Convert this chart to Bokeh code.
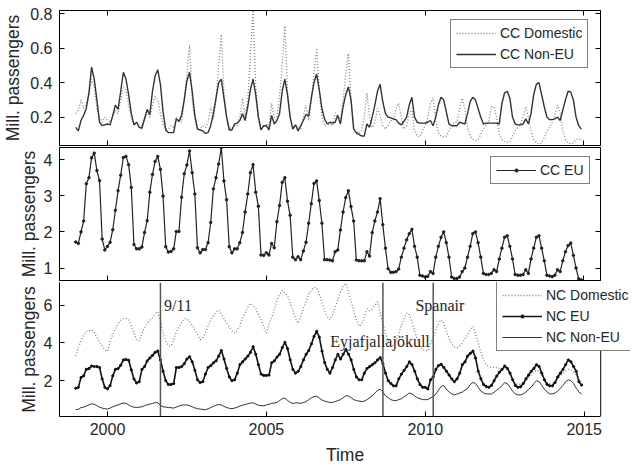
import numpy as np
from bokeh.plotting import figure
from bokeh.layouts import column
from bokeh.models import (LinearAxis, FixedTicker, Range1d, Legend, LegendItem,
                          Span, Label, CustomLabelingPolicy)
from bokeh.embed import file_html
from bokeh.resources import INLINE

# ---------------- data (monthly, Jan 1999 - Dec 2014), million passengers ----------------
cc_domestic = [
    0.22, 0.24, 0.30, 0.25, 0.28, 0.33, 0.42, 0.38, 0.25, 0.20, 0.17, 0.20,
    0.18, 0.17, 0.20, 0.24, 0.22, 0.30, 0.37, 0.36, 0.27, 0.20, 0.15, 0.17,
    0.15, 0.15, 0.19, 0.23, 0.20, 0.27, 0.32, 0.30, 0.22, 0.16, 0.13, 0.13,
    0.15, 0.14, 0.20, 0.18, 0.17, 0.30, 0.45, 0.62, 0.30, 0.18, 0.13, 0.13,
    0.15, 0.14, 0.17, 0.26, 0.19, 0.30, 0.50, 0.68, 0.35, 0.20, 0.14, 0.13,
    0.15, 0.15, 0.20, 0.31, 0.20, 0.30, 0.55, 0.83, 0.38, 0.20, 0.15, 0.14,
    0.16, 0.14, 0.28, 0.20, 0.20, 0.32, 0.50, 0.73, 0.35, 0.20, 0.14, 0.15,
    0.15, 0.13, 0.20, 0.27, 0.18, 0.30, 0.45, 0.60, 0.35, 0.20, 0.15, 0.15,
    0.16, 0.15, 0.225, 0.20, 0.19, 0.30, 0.45, 0.57, 0.30, 0.14, 0.10, 0.11,
    0.12, 0.20, 0.34, 0.20, 0.14, 0.17, 0.25, 0.21, 0.15, 0.13, 0.15, 0.18,
    0.18, 0.25, 0.28, 0.20, 0.13, 0.15, 0.22, 0.25, 0.12, 0.09, 0.085, 0.12,
    0.15, 0.20, 0.28, 0.31, 0.18, 0.11, 0.09, 0.085, 0.09, 0.12, 0.15, 0.17,
    0.17, 0.25, 0.31, 0.25, 0.14, 0.09, 0.07, 0.065, 0.07, 0.10, 0.13, 0.15,
    0.17, 0.26, 0.26, 0.20, 0.10, 0.07, 0.055, 0.055, 0.06, 0.09, 0.12, 0.14,
    0.16, 0.20, 0.26, 0.20, 0.12, 0.07, 0.05, 0.045, 0.05, 0.08, 0.12, 0.14,
    0.17, 0.21, 0.27, 0.23, 0.12, 0.07, 0.05, 0.045, 0.05, 0.07, 0.07, 0.07,
]
cc_non_eu = [
    0.14, 0.12, 0.18, 0.21, 0.25, 0.34, 0.49, 0.42, 0.30, 0.17, 0.15, 0.155,
    0.16, 0.155, 0.21, 0.27, 0.245, 0.35, 0.46, 0.42, 0.33, 0.22, 0.155, 0.17,
    0.14, 0.135, 0.19, 0.245, 0.215, 0.35, 0.44, 0.475, 0.39, 0.23, 0.125, 0.11,
    0.11, 0.11, 0.19, 0.175, 0.21, 0.30, 0.41, 0.46, 0.35, 0.21, 0.13, 0.125,
    0.12, 0.105, 0.11, 0.15, 0.22, 0.31, 0.40, 0.42, 0.31, 0.20, 0.125, 0.125,
    0.16, 0.165, 0.18, 0.22, 0.18, 0.26, 0.36, 0.42, 0.33, 0.20, 0.125, 0.15,
    0.15, 0.125, 0.21, 0.16, 0.18, 0.22, 0.35, 0.42, 0.33, 0.20, 0.13, 0.155,
    0.12, 0.15, 0.18, 0.215, 0.205, 0.31, 0.40, 0.45, 0.36, 0.25, 0.19, 0.16,
    0.17, 0.165, 0.17, 0.21, 0.16, 0.26, 0.33, 0.375, 0.30, 0.13, 0.11, 0.10,
    0.09, 0.09, 0.16, 0.14, 0.20, 0.27, 0.35, 0.39, 0.29, 0.22, 0.20, 0.195,
    0.19, 0.185, 0.165, 0.155, 0.175, 0.20, 0.27, 0.315, 0.20, 0.17, 0.165, 0.165,
    0.165, 0.17, 0.18, 0.15, 0.20, 0.27, 0.315, 0.30, 0.23, 0.16, 0.15, 0.15,
    0.15, 0.17, 0.165, 0.16, 0.22, 0.29, 0.315, 0.30, 0.25, 0.20, 0.16, 0.165,
    0.165, 0.165, 0.165, 0.165, 0.16, 0.28, 0.34, 0.35, 0.31, 0.20, 0.16, 0.155,
    0.155, 0.16, 0.19, 0.16, 0.22, 0.33, 0.39, 0.40, 0.33, 0.26, 0.20, 0.185,
    0.185, 0.19, 0.20, 0.18, 0.24, 0.30, 0.35, 0.345, 0.30, 0.20, 0.15, 0.13,
]
cc_eu = [
    1.72, 1.68, 2.00, 2.30, 3.33, 3.50, 4.05, 4.18, 3.70, 3.42, 1.80, 1.50,
    1.60, 1.71, 2.06, 2.60, 3.14, 3.57, 4.06, 4.09, 3.86, 3.23, 1.65, 1.53,
    1.53, 1.58, 1.98, 2.31, 3.10, 3.59, 3.95, 4.09, 3.73, 2.99, 1.59, 1.44,
    1.46, 1.53, 2.01, 2.01, 2.96, 3.61, 3.85, 4.24, 3.64, 3.05, 1.56, 1.42,
    1.51, 1.51, 1.70, 2.26, 3.19, 3.50, 3.88, 4.33, 3.41, 2.89, 1.59, 1.42,
    1.53, 1.53, 1.70, 1.98, 2.55, 3.05, 3.64, 3.86, 3.10, 2.71, 1.36, 1.35,
    1.42, 1.36, 1.68, 1.56, 2.28, 2.73, 3.37, 3.50, 2.85, 2.46, 1.30, 1.23,
    1.31, 1.23, 1.47, 1.71, 2.24, 2.78, 3.34, 3.41, 2.87, 2.24, 1.23, 1.23,
    1.22, 1.20, 1.45, 1.50, 2.05, 2.55, 2.95, 3.14, 2.70, 2.30, 1.22, 1.20,
    1.20, 1.20, 1.45, 1.33, 1.98, 2.30, 2.55, 2.92, 2.20, 1.55, 0.98, 0.88,
    0.88, 0.90, 0.97, 1.30, 1.55, 1.78, 1.95, 2.07, 1.60, 1.30, 0.80, 0.78,
    0.75, 0.77, 0.90, 0.85, 1.30, 1.60, 1.85, 2.00, 1.70, 1.30, 0.75, 0.71,
    0.71, 0.75, 0.90, 1.00, 1.30, 1.60, 1.95, 2.00, 1.70, 1.30, 0.85, 0.82,
    0.82, 0.85, 0.95, 0.90, 1.25, 1.55, 1.85, 1.89, 1.60, 1.25, 0.82, 0.80,
    0.80, 0.82, 0.95, 0.85, 1.25, 1.55, 1.85, 1.89, 1.55, 1.20, 0.80, 0.78,
    0.76, 0.80, 0.95, 0.90, 1.20, 1.45, 1.62, 1.69, 1.35, 1.00, 0.70, 0.67,
]
nc_domestic = [
    3.30, 3.75, 4.10, 4.40, 4.60, 4.65, 4.70, 4.55, 4.30, 4.05, 3.85, 3.65,
    3.56, 4.10, 4.45, 4.75, 5.00, 5.20, 5.28, 5.30, 5.22, 4.90, 4.52, 4.15,
    4.12, 4.50, 4.80, 5.04, 5.20, 5.35, 5.55, 5.65, 5.13, 4.50, 4.10, 3.85,
    3.85, 4.17, 4.60, 4.85, 5.10, 5.30, 5.25, 5.15, 4.95, 4.70, 4.45, 4.17,
    4.30, 4.55, 4.90, 5.20, 5.45, 5.65, 5.74, 5.55, 5.30, 5.05, 4.85, 4.65,
    4.52, 4.70, 4.87, 5.30, 5.60, 5.90, 6.09, 5.98, 5.83, 5.50, 5.22, 4.85,
    4.52, 5.00, 5.30, 5.80, 6.25, 6.55, 6.78, 6.65, 6.52, 6.10, 5.74, 5.30,
    5.04, 5.40, 5.85, 6.20, 6.60, 6.80, 6.95, 6.90, 6.60, 6.10, 5.70, 5.40,
    5.23, 5.50, 5.90, 6.30, 6.70, 7.00, 7.15, 6.70, 6.20, 5.70, 5.20, 4.88,
    5.00, 5.40, 5.80, 5.70, 5.80, 6.00, 6.19, 5.60, 5.00, 4.50, 4.10, 3.90,
    3.85, 4.10, 4.50, 4.95, 5.30, 5.58, 5.50, 5.10, 4.60, 4.20, 3.85, 3.65,
    3.60, 3.57, 3.95, 4.30, 4.70, 5.00, 5.23, 5.00, 4.60, 4.25, 3.95, 3.80,
    3.75, 3.85, 4.00, 4.20, 4.45, 4.70, 4.88, 4.50, 4.00, 3.50, 3.10, 2.85,
    2.75, 2.70, 2.72, 2.70, 2.65, 2.65, 2.70, 2.60, 2.35, 2.05, 1.85, 1.80,
    1.80, 1.85, 2.00, 2.15, 2.30, 2.45, 2.55, 2.50, 2.30, 2.10, 1.90, 1.85,
    1.85, 1.95, 2.10, 2.25, 2.40, 2.50, 2.60, 2.55, 2.45, 2.30, 2.05, 1.90,
]
nc_eu = [
    1.60, 1.65, 2.17, 2.26, 2.60, 2.64, 2.78, 2.75, 2.75, 2.70, 2.09, 1.65,
    1.57, 1.74, 2.26, 2.60, 2.64, 2.82, 3.10, 3.13, 3.08, 2.57, 2.09, 1.88,
    1.95, 2.60, 2.75, 3.05, 3.20, 3.34, 3.50, 3.57, 3.10, 2.50, 2.00, 1.80,
    1.80, 1.85, 2.70, 2.70, 2.75, 2.90, 3.15, 3.27, 3.00, 2.55, 2.05, 1.90,
    1.95, 2.35, 2.70, 2.80, 2.95, 3.05, 3.30, 3.60, 3.15, 2.65, 2.20, 2.00,
    2.05, 2.40, 2.85, 3.00, 3.15, 3.30, 3.50, 3.80, 3.40, 2.85, 2.35, 2.28,
    2.28, 2.30, 2.95, 3.05, 3.25, 3.40, 3.75, 4.03, 3.70, 3.10, 2.60, 2.40,
    2.50, 2.75, 3.10, 3.40, 3.60, 3.95, 4.35, 4.62, 4.30, 3.57, 2.96, 2.60,
    2.40, 2.70, 3.10, 3.40, 3.15, 3.40, 3.66, 3.40, 3.10, 2.60, 2.20, 2.05,
    2.05, 2.40, 2.65, 2.75, 2.85, 2.95, 3.10, 3.22, 2.90, 2.40, 2.00, 1.85,
    1.73, 1.73, 2.10, 2.35, 2.55, 2.75, 3.00, 2.85, 2.50, 2.10, 1.80, 1.65,
    1.65, 1.56, 2.05, 2.20, 2.60, 2.80, 2.87, 2.70, 2.50, 2.30, 2.10, 1.95,
    2.10, 2.40, 2.85, 3.00, 3.30, 3.45, 3.57, 3.20, 2.50, 2.10, 1.80, 1.70,
    1.65, 1.75, 2.00, 2.25, 2.45, 2.60, 2.78, 2.65, 2.40, 2.05, 1.75, 1.65,
    1.68, 1.85, 2.10, 2.30, 2.50, 2.65, 2.85, 2.75, 2.40, 2.05, 1.80, 1.73,
    1.73, 1.90, 2.20, 2.40, 2.60, 2.85, 3.10, 3.00, 2.75, 2.50, 1.95, 1.77,
]
nc_non_eu = [
    0.47, 0.48, 0.58, 0.60, 0.66, 0.72, 0.78, 0.76, 0.68, 0.60, 0.55, 0.52,
    0.50, 0.55, 0.62, 0.68, 0.72, 0.78, 0.82, 0.80, 0.72, 0.64, 0.60, 0.58,
    0.60, 0.62, 0.68, 0.73, 0.76, 0.80, 0.84, 0.83, 0.70, 0.62, 0.60, 0.58,
    0.57, 0.55, 0.60, 0.66, 0.70, 0.72, 0.72, 0.68, 0.62, 0.56, 0.52, 0.50,
    0.48, 0.46, 0.52, 0.58, 0.64, 0.70, 0.74, 0.72, 0.64, 0.58, 0.54, 0.52,
    0.55, 0.60, 0.66, 0.70, 0.74, 0.78, 0.82, 0.83, 0.76, 0.70, 0.68, 0.67,
    0.72, 0.75, 0.80, 0.82, 0.86, 0.95, 1.05, 1.08, 0.95, 0.85, 0.80, 0.82,
    0.83, 0.80, 0.85, 0.90, 1.00, 1.10, 1.16, 1.18, 1.08, 0.98, 0.92, 0.88,
    0.85, 0.85, 0.90, 0.95, 1.00, 1.10, 1.20, 1.20, 1.10, 1.00, 0.95, 0.92,
    0.90, 0.92, 1.00, 1.10, 1.20, 1.35, 1.50, 1.55, 1.40, 1.20, 1.10, 1.00,
    0.95, 0.95, 1.00, 1.05, 1.15, 1.25, 1.35, 1.30, 1.20, 1.10, 1.05, 1.00,
    1.00, 1.00, 1.10, 1.15, 1.30, 1.50, 1.70, 1.74, 1.55, 1.40, 1.30, 1.25,
    1.30, 1.35, 1.40, 1.50, 1.60, 1.80, 1.91, 1.85, 1.65, 1.45, 1.35, 1.30,
    1.30, 1.30, 1.40, 1.50, 1.60, 1.75, 1.90, 1.85, 1.65, 1.45, 1.30, 1.25,
    1.25, 1.30, 1.40, 1.55, 1.65, 1.85, 2.00, 1.95, 1.75, 1.55, 1.40, 1.30,
    1.30, 1.35, 1.45, 1.60, 1.75, 1.95, 2.05, 2.00, 1.85, 1.60, 1.40, 1.30,
]
start_year = 1999
x_ticks = [2000, 2005, 2010, 2015]
y_ticks_cc_other = [0.2, 0.4, 0.6, 0.8]
y_ticks_cc_eu = [1, 2, 3, 4]
y_ticks_nc = [2, 4, 6]
events = [("9/11", 2001 + 8 / 12), ("Eyjafjallajökull", 2008 + 8 / 12), ("Spanair", 2010 + 3 / 12)]
event_labels = [("9/11", 2001.78, 5.96), ("Spanair", 2009.69, 5.96), ("Eyjafjallajökull", 2007.01, 4.09)]

time = start_year + np.arange(len(cc_eu)) / 12.0

SANS = "Liberation Sans"
SERIF = "Liberation Serif"
TXT = "#262626"
X0, X1 = 1998.49, 2015.52
FRAME_W = 545
LEFT = 57
EXTRA = 30          # room right of the frame (used only by the bottom legend)


def hide_policy():
    return CustomLabelingPolicy(code="for (const i of Array.from(indices)) { indices.unset(i) } return indices")


def style_axis(ax, ticks, show_labels):
    ax.ticker = FixedTicker(ticks=ticks)
    ax.major_tick_in = 5
    ax.major_tick_out = 0
    ax.minor_tick_in = 0
    ax.minor_tick_out = 0
    ax.axis_line_color = "black"
    ax.major_tick_line_color = "black"
    ax.major_label_text_font = SANS
    ax.major_label_text_color = TXT
    if show_labels:
        ax.major_label_text_font_size = "16px"
        ax.major_label_standoff = 7
    else:
        ax.major_label_text_font_size = "1px"
        ax.major_label_standoff = -2
        ax.major_label_policy = hide_policy()


def make_panel(height, y_range, y_ticks, top_border, bottom_border, show_x, label_standoff,
               open_right=False):
    if open_right:
        width = LEFT + FRAME_W + EXTRA
        x_end = X0 + (X1 - X0) * (FRAME_W + EXTRA) / FRAME_W
    else:
        width = LEFT + FRAME_W
        x_end = X1
    p = figure(width=width, height=height,
               output_backend="svg", toolbar_location=None,
               x_range=Range1d(X0, x_end), y_range=Range1d(*y_range),
               min_border_left=LEFT, min_border_right=0,
               min_border_top=top_border, min_border_bottom=bottom_border)
    p.grid.visible = False
    p.background_fill_color = "white"
    p.border_fill_color = "white"
    style_axis(p.xaxis[0], x_ticks, show_x)
    style_axis(p.yaxis[0], y_ticks, True)
    if show_x:
        p.xaxis.major_label_standoff = 6
        p.xaxis.axis_label = "Time"
        p.xaxis.axis_label_text_font = SANS
        p.xaxis.axis_label_text_font_size = "17.5px"
        p.xaxis.axis_label_text_font_style = "normal"
        p.xaxis.axis_label_text_color = TXT
        p.xaxis.axis_label_standoff = 7
    p.yaxis.axis_label = "Mill. passengers"
    p.yaxis.axis_label_text_font = SANS
    p.yaxis.axis_label_text_font_size = "17.5px"
    p.yaxis.axis_label_text_font_style = "normal"
    p.yaxis.axis_label_text_color = TXT
    p.yaxis.axis_label_standoff = label_standoff
    if open_right:
        # frame box ends at X1; the free strip to its right only holds the legend
        p.outline_line_color = None
        p.xaxis.bounds = (X0, X1)
        p.add_layout(Span(location=X1, dimension="height", line_color="black", line_width=1))
    else:
        p.outline_line_color = "black"
        p.outline_line_width = 1
        right = LinearAxis()
        style_axis(right, y_ticks, False)
        p.add_layout(right, "right")
    if top_border > 0:
        top = LinearAxis()
        style_axis(top, x_ticks, False)
        p.add_layout(top, "above")
    return p


def make_legend(items, loc):
    lg = Legend(items=items, location=loc)
    lg.label_text_font = SANS
    lg.label_text_font_size = "14px"
    lg.label_text_color = TXT
    lg.glyph_width = 40
    lg.glyph_height = 8
    lg.label_height = 15
    lg.label_standoff = 4
    lg.spacing = 5
    lg.padding = 5
    lg.margin = 0
    lg.border_line_color = "black"
    lg.border_line_width = 1
    lg.background_fill_color = "white"
    lg.background_fill_alpha = 1
    return lg


# ---------------- panel 1: CC domestic & non-EU ----------------
p1 = make_panel(147, (0.035, 0.819), y_ticks_cc_other, 10, 0, False, 4)
r_dom = p1.line(time, cc_domestic, line_color="#808080", line_dash="1 2", line_width=1.3)
r_non = p1.line(time, cc_non_eu, line_color="#333333", line_width=1.4)
p1.add_layout(make_legend([LegendItem(label="CC Domestic", renderers=[r_dom]),
                           LegendItem(label="CC Non-EU", renderers=[r_non])], (391, 77)))

# ---------------- panel 2: CC EU ----------------
p2 = make_panel(135, (0.654, 4.336), y_ticks_cc_eu, 0, 0, False, 2)
r_eu = p2.line(time, cc_eu, line_color="#222222", line_width=1.2)
r_eum = p2.scatter(time, cc_eu, marker="circle", size=2.5, fill_color="#222222", line_color="#222222")
p2.add_layout(make_legend([LegendItem(label="CC EU", renderers=[r_eu, r_eum])], (431, 96)))

# ---------------- panel 3: NC ----------------
p3 = make_panel(185, (0.106, 7.2), y_ticks_nc, 0, 49, True, 2, open_right=True)
r_ndom = p3.line(time, nc_domestic, line_color="#808080", line_dash="1 2", line_width=1.3)
r_neu = p3.line(time, nc_eu, line_color="#111111", line_width=1.6)
r_neum = p3.scatter(time, nc_eu, marker="circle", size=2.2, fill_color="#111111", line_color="#111111")
r_nnon = p3.line(time, nc_non_eu, line_color="#333333", line_width=1.0)
for name, t in events:
    p3.add_layout(Span(location=t, dimension="height", line_color="#555555", line_width=1.5))
for txt, tx, ty in event_labels:
    p3.add_layout(Label(x=tx, y=ty, text=txt, text_font=SERIF, text_font_size="16px",
                        text_color=TXT, text_baseline="middle", text_align="left"))
p3.add_layout(make_legend([LegendItem(label="NC Domestic", renderers=[r_ndom]),
                           LegendItem(label="NC EU", renderers=[r_neu, r_neum]),
                           LegendItem(label="NC Non-EU", renderers=[r_nnon])], (437, 65)))

layout = column(p1, p2, p3, spacing=0)
open("out.html", "w").write(file_html(layout, INLINE))
